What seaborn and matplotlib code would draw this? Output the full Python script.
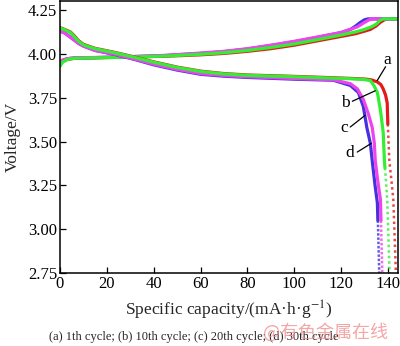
import matplotlib
matplotlib.use("Agg")
import matplotlib.pyplot as plt
import seaborn as sns
import pandas as pd

sns.set_theme(style="ticks")
plt.rcParams["font.family"] = ["Liberation Serif", "DejaVu Serif"]
plt.rcParams["mathtext.fontset"] = "stix"

# ---------------- data ----------------
cycle_labels = ["a", "b", "c", "d"]
cycle_colors = ["#e41a1a", "#33ee33", "#ee44ee", "#4433dd"]

# charge curves (capacity, voltage)
charge_a_x = [0, 1, 3, 6, 15, 30, 45, 60, 70, 80, 90, 100, 110, 120, 126, 130, 132.5, 135, 136.7, 138.5, 139.7, 145]
charge_a_v = [3.935, 3.955, 3.968, 3.975, 3.978, 3.982, 3.987, 3.995, 4.003, 4.015, 4.03, 4.05, 4.075, 4.10, 4.115, 4.13, 4.14, 4.16, 4.18, 4.195, 4.20, 4.20]
charge_b_x = [0, 1, 3, 6, 15, 30, 45, 60, 70, 80, 90, 100, 110, 120, 126, 130, 133, 135, 136.5, 138, 145]
charge_b_v = [3.93, 3.952, 3.968, 3.975, 3.978, 3.982, 3.988, 3.998, 4.007, 4.02, 4.037, 4.057, 4.082, 4.108, 4.125, 4.14, 4.155, 4.17, 4.19, 4.20, 4.20]
charge_c_x = [0, 1, 3, 6, 15, 30, 45, 60, 70, 80, 90, 100, 110, 120, 124, 127, 130, 132, 133.5, 145]
charge_c_v = [3.955, 3.965, 3.973, 3.978, 3.98, 3.985, 3.992, 4.005, 4.015, 4.03, 4.05, 4.072, 4.097, 4.122, 4.14, 4.155, 4.18, 4.195, 4.20, 4.20]
charge_d_x = [0, 1, 3, 6, 15, 30, 45, 60, 70, 80, 90, 100, 110, 120, 124, 126, 128, 130, 131.5, 145]
charge_d_v = [3.95, 3.962, 3.972, 3.977, 3.979, 3.984, 3.991, 4.003, 4.013, 4.028, 4.048, 4.07, 4.095, 4.122, 4.14, 4.157, 4.178, 4.195, 4.20, 4.20]

# discharge curves (capacity, voltage)
discharge_a_x = [0, 2, 4.5, 6, 8, 10, 15, 23, 32, 40, 50, 60, 70, 80, 100, 117, 125, 130, 133, 135.5, 137, 138, 139, 139.7, 140, 140.6, 141.5, 142.3, 143.4]
discharge_a_v = [4.15, 4.14, 4.125, 4.105, 4.075, 4.055, 4.032, 4.01, 3.982, 3.955, 3.925, 3.902, 3.888, 3.88, 3.872, 3.864, 3.86, 3.857, 3.852, 3.84, 3.825, 3.80, 3.765, 3.72, 3.58, 3.39, 3.28, 3.17, 2.75]
discharge_b_x = [0, 2, 4.5, 6, 8, 10, 15, 23, 32, 40, 50, 60, 70, 80, 100, 117, 125, 130, 132.5, 134, 135.5, 136.8, 138, 138.5, 139.2, 139.7, 140.7]
discharge_b_v = [4.148, 4.138, 4.122, 4.10, 4.072, 4.052, 4.03, 4.008, 3.98, 3.953, 3.923, 3.90, 3.886, 3.878, 3.87, 3.862, 3.858, 3.854, 3.848, 3.82, 3.78, 3.68, 3.55, 3.39, 3.27, 3.17, 2.75]
discharge_c_x = [0, 2, 4, 6, 8, 10, 15, 23, 32, 40, 50, 60, 70, 80, 100, 117, 124, 127, 129.5, 131.6, 133.3, 134.2, 134.6, 135.6, 136.8, 137.6]
discharge_c_v = [4.13, 4.12, 4.10, 4.08, 4.06, 4.045, 4.02, 4.0, 3.97, 3.942, 3.912, 3.888, 3.877, 3.87, 3.86, 3.852, 3.83, 3.80, 3.74, 3.66, 3.58, 3.49, 3.39, 3.28, 3.17, 2.75]
discharge_d_x = [0, 2, 4, 6, 8, 10, 15, 23, 32, 40, 50, 60, 70, 80, 100, 116.7, 124, 127.4, 129.5, 131, 132.5, 133.3, 134.5, 135.5, 136.3]
discharge_d_v = [4.13, 4.12, 4.10, 4.08, 4.06, 4.045, 4.02, 3.998, 3.968, 3.938, 3.908, 3.884, 3.873, 3.866, 3.856, 3.85, 3.82, 3.78, 3.70, 3.58, 3.49, 3.39, 3.25, 3.15, 2.75]

# label positions / leader lines (capacity, voltage)
label_text_x = [139.6, 121.8, 121.4, 123.5]
label_text_v = [3.965, 3.72, 3.577, 3.434]
leader_start_x = [139.0, 124.8, 123.9, 126.9]
leader_start_v = [3.927, 3.73, 3.583, 3.44]
leader_end_x = [135.4, 134.6, 130.3, 132.9]
leader_end_v = [3.848, 3.79, 3.65, 3.49]

x_ticks = [0, 20, 40, 60, 80, 100, 120, 140]
y_ticks = [2.75, 3.00, 3.25, 3.50, 3.75, 4.00, 4.25]
x_label = "Specific capacity/(mA·h·g$^{-1}$)"
y_label = "Voltage/V"
caption = "(a) 1th cycle; (b) 10th cycle; (c) 20th cycle; (d) 30th cycle"
watermark = "@有色金属在线"

charges = {"a": (charge_a_x, charge_a_v), "b": (charge_b_x, charge_b_v),
           "c": (charge_c_x, charge_c_v), "d": (charge_d_x, charge_d_v)}
discharges = {"a": (discharge_a_x, discharge_a_v), "b": (discharge_b_x, discharge_b_v),
              "c": (discharge_c_x, discharge_c_v), "d": (discharge_d_x, discharge_d_v)}
colors = dict(zip(cycle_labels, cycle_colors))
tail_start = {"a": 3.60, "b": 3.35, "c": 3.05, "d": 3.05}
tail_dash = {"a": (0, (1, 1.3)), "b": (0, (1, 1.2)), "c": (0, (1, 0.8)), "d": (0, (1, 0.7))}

# ---------------- figure ----------------
fig = plt.figure(figsize=(4.0, 3.46), dpi=100)
ax = fig.add_axes([0.15, 0.211, 0.845, 0.785])

draw_order = ["a", "d", "c", "b"]
for k in draw_order:
    cx, cv = charges[k]
    df = pd.DataFrame({"x": cx, "v": cv})
    sns.lineplot(data=df, x="x", y="v", sort=False, estimator=None, color=colors[k],
                 lw=2.3, ax=ax, legend=False)
for k in draw_order:
    dx, dv = discharges[k]
    df = pd.DataFrame({"x": dx, "v": dv})
    # solid part down to the tail start, then a dotted tail
    main = df[df["v"] >= tail_start[k]].copy()
    rest = df[df["v"] < tail_start[k]]
    # split exactly at tail_start by linear interpolation between neighbours
    p0 = main.iloc[-1]
    p1 = rest.iloc[0]
    t = (p0["v"] - tail_start[k]) / (p0["v"] - p1["v"])
    split = pd.DataFrame({"x": [p0["x"] + t * (p1["x"] - p0["x"])], "v": [tail_start[k]]})
    main = pd.concat([main, split], ignore_index=True)
    tail = pd.concat([split, rest], ignore_index=True)
    sns.lineplot(data=main, x="x", y="v", sort=False, estimator=None, color=colors[k],
                 lw=2.3, ax=ax, legend=False)
    sns.lineplot(data=tail, x="x", y="v", sort=False, estimator=None, color=colors[k],
                 lw=1.8, alpha=0.8, ax=ax, legend=False, linestyle=tail_dash[k])

for i, lab in enumerate(cycle_labels):
    ax.plot([leader_start_x[i], leader_end_x[i]], [leader_start_v[i], leader_end_v[i]],
            color="black", lw=0.9)
    ax.text(label_text_x[i], label_text_v[i], lab, ha="center", va="center",
            fontsize=12.5, color="black")

ax.set_xlim(0, 144.3)
ax.set_ylim(2.75, 4.30)
ax.set_xticks(x_ticks)
ax.set_yticks(y_ticks)
ax.set_yticklabels([f"{t:.2f}" for t in y_ticks])
ax.tick_params(direction="in", length=4, width=0.9, labelsize=12, colors="black",
               top=False, right=False, pad=2)
for s in ax.spines.values():
    s.set_linewidth(1.1)
    s.set_color("black")
ax.set_xlabel(x_label, fontsize=12.5, labelpad=5)
ax.set_ylabel(y_label, fontsize=12.5, labelpad=5)

fig.text(0.485, 0.026, caption, ha="center", va="center", fontsize=9)
fig.text(0.815, 0.04, watermark, ha="center", va="center", fontsize=13,
         color="#f08a8a", alpha=0.75, family=["Noto Sans CJK SC", "DejaVu Sans"])

fig.savefig("out.png", dpi=100)
